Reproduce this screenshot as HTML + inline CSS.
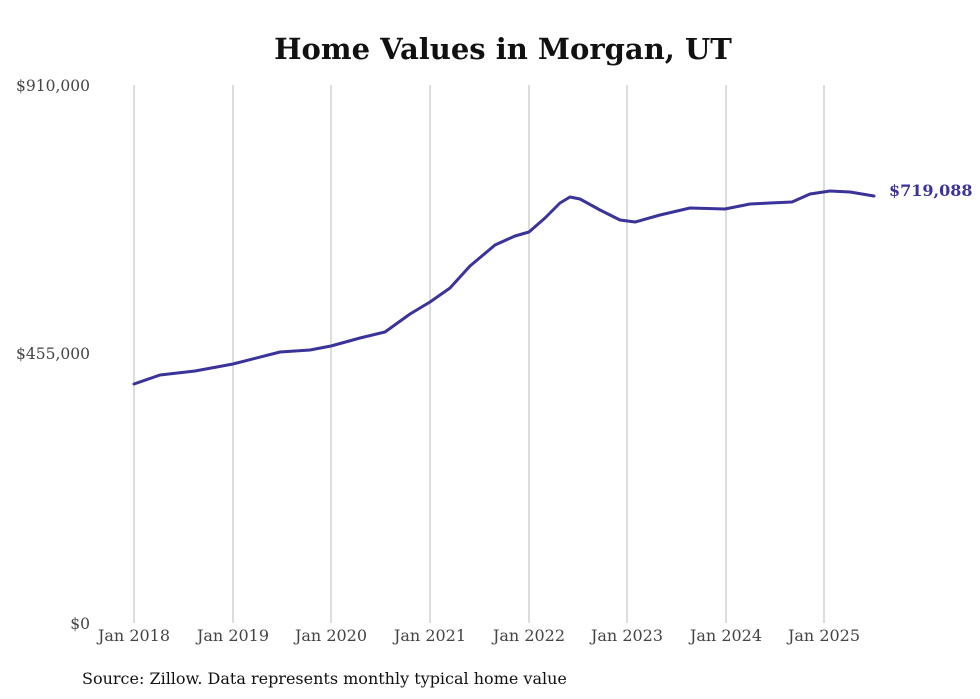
<!DOCTYPE html>
<html><head><meta charset="utf-8"><style>
body{margin:0;background:#fff;}
svg{display:block;font-family:"DejaVu Serif","Liberation Serif",serif;}
</style></head><body>
<svg width="980" height="699" viewBox="0 0 980 699">
<text x="503" y="59" text-anchor="middle" font-size="29" font-weight="bold" fill="#111">Home Values in Morgan, UT</text>
<g stroke="#bbb" stroke-width="1">
<line x1="134" y1="85" x2="134" y2="623"/><line x1="233" y1="85" x2="233" y2="623"/>
<line x1="331" y1="85" x2="331" y2="623"/><line x1="430" y1="85" x2="430" y2="623"/>
<line x1="529" y1="85" x2="529" y2="623"/><line x1="627" y1="85" x2="627" y2="623"/>
<line x1="726" y1="85" x2="726" y2="623"/><line x1="824" y1="85" x2="824" y2="623"/>
</g>
<g font-size="15.5" fill="#444" text-anchor="end">
<text x="90" y="91">$910,000</text><text x="90" y="359">$455,000</text><text x="90" y="629">$0</text>
</g>
<g font-size="16" fill="#444" text-anchor="middle">
<text x="134" y="641">Jan 2018</text><text x="233" y="641">Jan 2019</text><text x="331" y="641">Jan 2020</text>
<text x="430" y="641">Jan 2021</text><text x="529" y="641">Jan 2022</text><text x="627" y="641">Jan 2023</text>
<text x="726" y="641">Jan 2024</text><text x="824" y="641">Jan 2025</text>
</g>
<polyline fill="none" stroke="#3a3399" stroke-width="3" stroke-linejoin="round" stroke-linecap="round"
points="134,384 160,375 195,371 233,364 280,352 310,350 331,346 360,338 385,332 410,314 430,302 450,288 470,266 495,245 515,236 529,232 545,218 560,203 570,197 580,199 600,210 620,220 635,222 660,215 690,208 725,209 750,204 770,203 792,202 810,194 830,191 850,192 874,196"/>
<text x="889" y="196" font-size="16" font-weight="bold" fill="#3a3399">$719,088</text>
<text x="82" y="684" font-size="16" fill="#111">Source: Zillow. Data represents monthly typical home value</text>
</svg>
</body></html>
